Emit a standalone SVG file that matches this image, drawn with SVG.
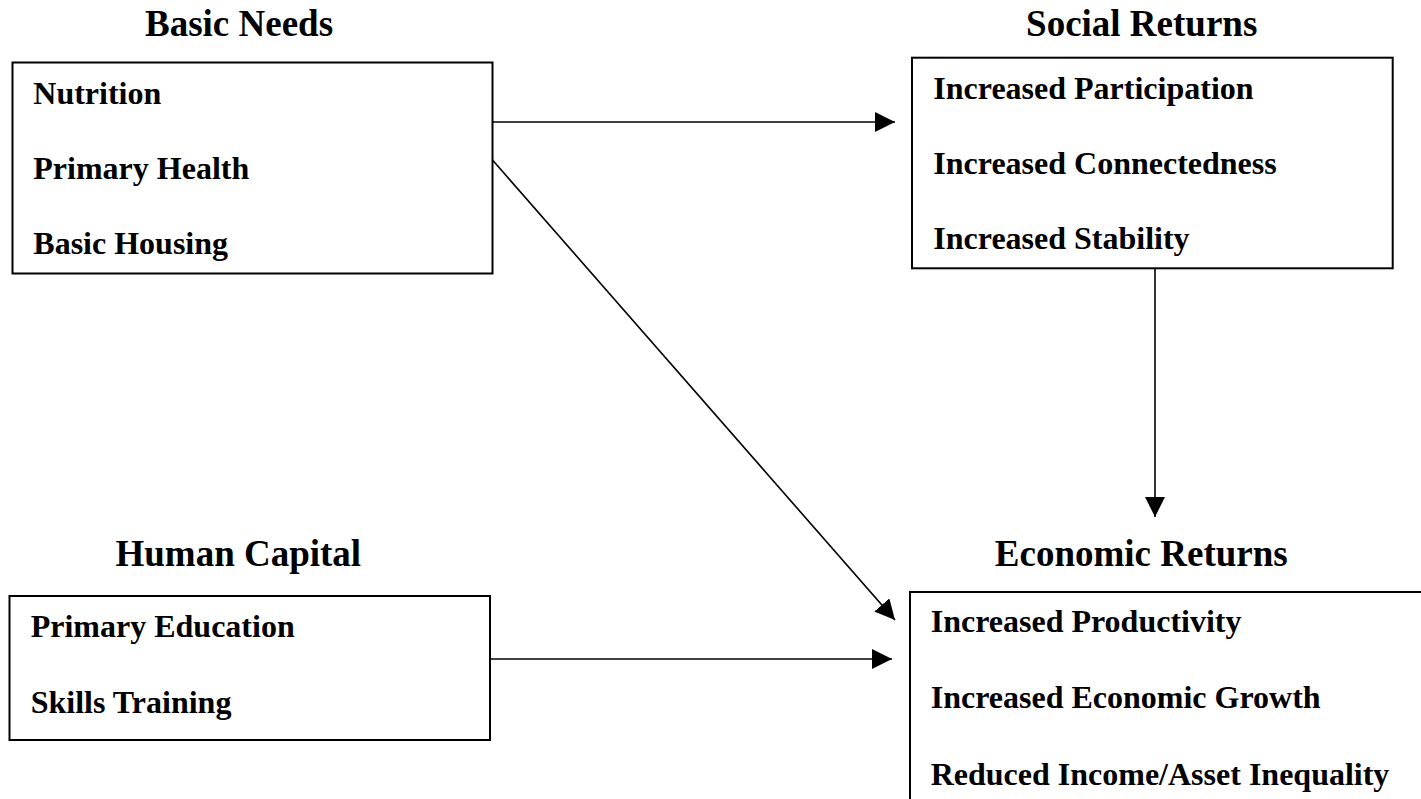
<svg xmlns="http://www.w3.org/2000/svg" width="1421" height="799" viewBox="0 0 1421 799">
<style>
.title{font-family:"Liberation Serif","Times New Roman",serif;font-weight:bold;font-size:37px;fill:#000;text-anchor:middle}
.item{font-family:"Liberation Serif","Times New Roman",serif;font-weight:bold;font-size:32px;fill:#000}
.box{fill:none;stroke:#000;stroke-width:2}
.conn{fill:none;stroke:#000;stroke-width:1.6}
</style>
<defs>
<marker id="arrow" markerUnits="userSpaceOnUse" markerWidth="21" markerHeight="21" refX="20" refY="10" orient="auto">
<path d="M0,0 L20,10 L0,20 Z" fill="#000"/>
</marker>
</defs>
<rect width="1421" height="799" fill="#fff"/>
<g id="basic-needs">
<text class="title" x="239" y="36">Basic Needs</text>
<rect class="box" x="12.5" y="62.5" width="480" height="211"/>
<text class="item" x="33.3" y="104">Nutrition</text>
<text class="item" x="33.3" y="179">Primary Health</text>
<text class="item" x="33.3" y="254">Basic Housing</text>
</g>
<g id="social-returns">
<text class="title" x="1141.7" y="36">Social Returns</text>
<rect class="box" x="912" y="57.7" width="480.7" height="210.6"/>
<text class="item" x="933.3" y="99">Increased Participation</text>
<text class="item" x="933.3" y="174.3">Increased Connectedness</text>
<text class="item" x="933.3" y="249.3">Increased Stability</text>
</g>
<g id="human-capital">
<text class="title" x="238.3" y="566">Human Capital</text>
<rect class="box" x="9.5" y="596" width="480.5" height="144"/>
<text class="item" x="30.7" y="636.7">Primary Education</text>
<text class="item" x="30.7" y="712.7">Skills Training</text>
</g>
<g id="economic-returns">
<text class="title" x="1141.3" y="566">Economic Returns</text>
<path class="box" d="M1421,592 H910 V799"/>
<text class="item" x="930.7" y="631.7">Increased Productivity</text>
<text class="item" x="930.7" y="708.3">Increased Economic Growth</text>
<text class="item" x="930.7" y="785">Reduced Income/Asset Inequality</text>
</g>
<g id="connectors">
<line class="conn" x1="492.5" y1="122" x2="895" y2="122" marker-end="url(#arrow)"/>
<line class="conn" x1="492.5" y1="160" x2="895" y2="620" marker-end="url(#arrow)"/>
<line class="conn" x1="1155" y1="268.3" x2="1155" y2="517" marker-end="url(#arrow)"/>
<line class="conn" x1="490" y1="659" x2="892" y2="659" marker-end="url(#arrow)"/>
</g>
</svg>
